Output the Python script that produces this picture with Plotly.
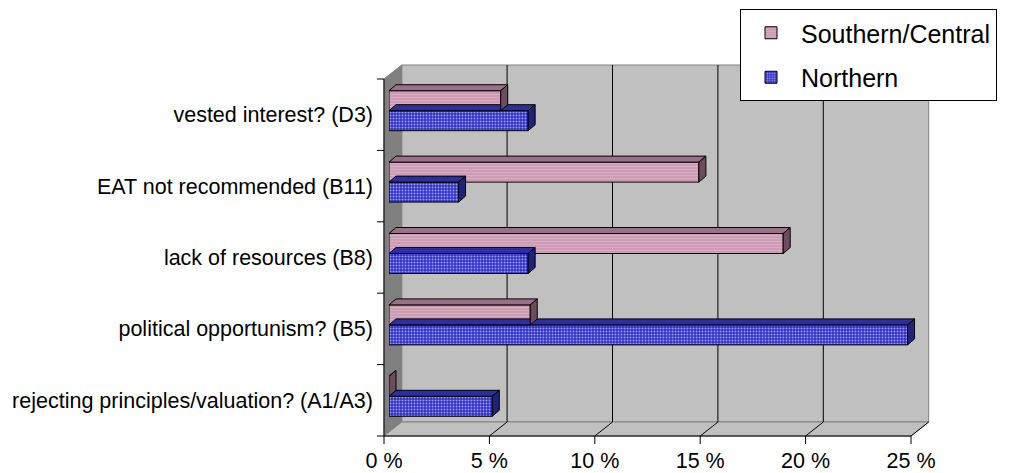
import plotly.graph_objects as go

# ---- data -------------------------------------------------------------
categories = [
    "rejecting principles/valuation? (A1/A3)",
    "political opportunism? (B5)",
    "lack of resources (B8)",
    "EAT not recommended (B11)",
    "vested interest? (D3)",
]
northern = [4.9, 24.6, 6.6, 3.3, 6.6]
southern = [0.0, 6.7, 18.7, 14.7, 5.3]
pct_ticks = [0, 5, 10, 15, 20, 25]
pct_labels = ["0 %", "5 %", "10 %", "15 %", "20 %", "25 %"]

# ---- geometry of the pseudo-3D box (pixels) ---------------------------
W, H = 1010, 473
FX0, FX1 = 384, 911          # front edge of floor: 0 % .. 25 %
FY_TOP, FY_BOT = 79, 436     # front plane top / bottom
DX, DY = 17.7, 14.0          # box depth (right, up)
SHIFT_X, SHIFT_Y = 5, 4      # bars sit slightly behind the front plane
BDX, BDY = 7, 6              # depth of each bar
HALF = 0.14                  # half bar thickness in category units
XMAX = pct_ticks[-1]
YRANGE = [-0.5, len(categories) - 0.5]

FONT = "Liberation Sans, Arial, sans-serif"


def fx(p):
    return p / W


def fy(p):
    return 1 - p / H


def pt(px, py):
    return f"{fx(px):.5f},{fy(py):.5f}"


def px_of(v):
    return FX0 + v * (FX1 - FX0) / XMAX


def py_of(c):
    return FY_BOT - (c - YRANGE[0]) * (FY_BOT - FY_TOP) / (YRANGE[1] - YRANGE[0])


# bar depth expressed in data units of the bar axes
ddx = BDX * XMAX / (FX1 - FX0)
ddy = BDY * (YRANGE[1] - YRANGE[0]) / (FY_BOT - FY_TOP)


def faces(values, offset):
    top_x, top_y, side_x, side_y = [], [], [], []
    for i, v in enumerate(values):
        c = i + offset
        t, b = c + HALF, c - HALF
        top_x += [0, ddx, v + ddx, v, 0, None]
        top_y += [t, t + ddy, t + ddy, t, t, None]
        side_x += [v, v, v + ddx, v + ddx, v, None]
        side_y += [b, t, t + ddy, b + ddy, b, None]
    return top_x, top_y, side_x, side_y


fig = go.Figure()

series = [
    # name, values, offset, front pattern, top colour, side colour, legend rank
    ("Northern", northern, -HALF,
     dict(shape=".", bgcolor="#2f2fc0", fgcolor="#9c9cff", size=3, solidity=0.35),
     "#2e2ea4", "#22227a", 2),
    ("Southern/Central", southern, HALF,
     dict(shape="-", bgcolor="#cc99b3", fgcolor="#d8aec2", size=3, solidity=0.4),
     "#9a7086", "#6c4d5c", 1),
]

for name, vals, off, pattern, top_c, side_c, rank in series:
    fig.add_trace(go.Bar(
        x=vals, y=[i + off for i in range(len(vals))], orientation="h",
        width=2 * HALF, name=name, legendgroup=name, legendrank=rank,
        marker=dict(color=pattern["bgcolor"], pattern=pattern,
                    line=dict(color="black", width=1)),
        hoverinfo="skip",
    ))
    tx, ty, sx, sy = faces(vals, off)
    for fxs, fys, col in ((tx, ty, top_c), (sx, sy, side_c)):
        fig.add_trace(go.Scatter(
            x=fxs, y=fys, mode="lines", fill="toself", fillcolor=col,
            line=dict(color="black", width=1), showlegend=False,
            legendgroup=name, legendrank=rank, hoverinfo="skip",
        ))

# ---- walls, floor, gridlines, axis lines ------------------------------
shapes = []
bx0, bx1 = FX0 + DX, FX1 + DX
by0, by1 = FY_TOP - DY, FY_BOT - DY


def paper_line(x0, y0, x1, y1, color="black", layer="below"):
    return dict(type="line", xref="paper", yref="paper", layer=layer,
                x0=fx(x0), x1=fx(x1), y0=fy(y0), y1=fy(y1),
                line=dict(color=color, width=1))


shapes.append(dict(type="rect", xref="paper", yref="paper", layer="below",
                   x0=fx(bx0), x1=fx(bx1), y0=fy(by1), y1=fy(by0),
                   fillcolor="#c0c0c0", line=dict(color="#808080", width=1)))
shapes.append(dict(type="path", xref="paper", yref="paper", layer="below",
                   path=f"M{pt(FX0, FY_TOP)} L{pt(bx0, by0)} L{pt(bx0, by1)} L{pt(FX0, FY_BOT)} Z",
                   fillcolor="#808080", line=dict(color="#808080", width=1)))
shapes.append(dict(type="path", xref="paper", yref="paper", layer="below",
                   path=f"M{pt(FX0, FY_BOT)} L{pt(FX1, FY_BOT)} L{pt(bx1, by1)} L{pt(bx0, by1)} Z",
                   fillcolor="#c0c0c0", line=dict(color="#808080", width=1)))
for t in pct_ticks:
    xf = px_of(t)
    if 0 < t < XMAX:
        shapes.append(paper_line(xf + DX, by0, xf + DX, by1))
    if t > 0:
        shapes.append(paper_line(xf, FY_BOT, xf + DX, by1))
    # value-axis tick mark
    shapes.append(paper_line(xf, FY_BOT, xf, FY_BOT + 8))
# category-axis tick marks between categories
for k in range(len(categories) + 1):
    yk = py_of(YRANGE[0] + k)
    shapes.append(paper_line(FX0 - 7, yk, FX0, yk))
# axis lines along the front edges
shapes.append(paper_line(FX0, FY_BOT, FX1, FY_BOT))
shapes.append(paper_line(FX0, FY_TOP, FX0, FY_BOT))

fig.update_layout(
    template="none",
    width=W, height=H,
    margin=dict(l=0, r=0, t=0, b=0, autoexpand=False),
    paper_bgcolor="white", plot_bgcolor="rgba(0,0,0,0)",
    barmode="overlay",
    font=dict(family=FONT, size=21.5, color="black"),
    shapes=shapes,
    showlegend=True,
    legend=dict(x=fx(740), y=fy(9), xanchor="left", yanchor="top",
                bgcolor="white", bordercolor="black", borderwidth=1,
                font=dict(family=FONT, size=25, color="black"),
                traceorder="grouped", tracegroupgap=9, itemwidth=50),
    xaxis=dict(domain=[fx(FX0 + SHIFT_X), fx(FX1 + SHIFT_X)], range=[0, XMAX],
               showline=False, ticks="", showgrid=False, zeroline=False,
               tickvals=pct_ticks, ticktext=pct_labels, automargin=False,
               ticklabelshift=-SHIFT_X, ticklabelstandoff=13,
               fixedrange=True),
    yaxis=dict(domain=[fy(FY_BOT - SHIFT_Y), fy(FY_TOP - SHIFT_Y)], range=YRANGE,
               showline=False, ticks="", showgrid=False, zeroline=False,
               tickvals=list(range(len(categories))), ticktext=categories,
               automargin=False,
               ticklabelshift=SHIFT_Y, ticklabelstandoff=15,
               fixedrange=True),
)

fig.write_html("out.html")
